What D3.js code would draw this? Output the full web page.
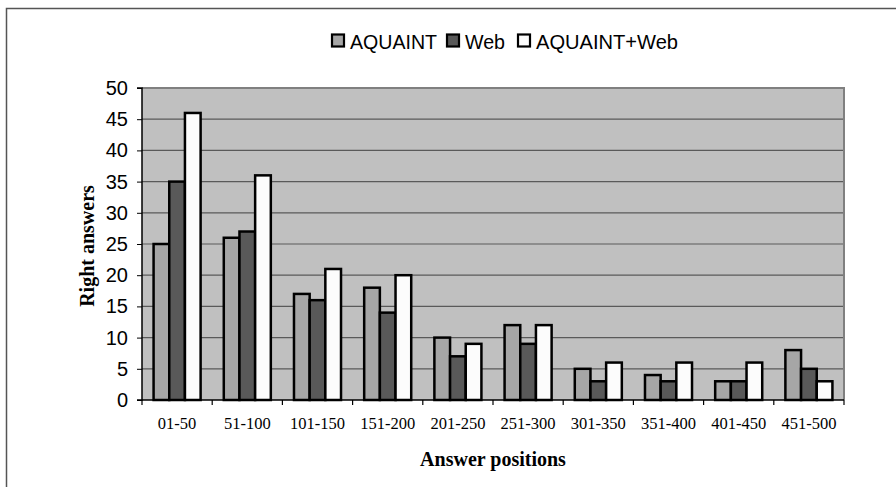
<!DOCTYPE html>
<html><head><meta charset="utf-8">
<script src="https://cdn.jsdelivr.net/npm/d3@7"></script>
<style>body{margin:0;background:#fff}svg{display:block}</style>
</head><body>
<script>
const categories = ["01-50","51-100","101-150","151-200","201-250","251-300","301-350","351-400","401-450","451-500"];
const seriesNames = ["AQUAINT","Web","AQUAINT+Web"];
const aquaint = [25,26,17,18,10,12,5,4,3,8];
const web = [35,27,16,14,7,9,3,3,3,5];
const aquaintWeb = [46,36,21,20,9,12,6,6,6,3];
const yTicks = [0,5,10,15,20,25,30,35,40,45,50];
const colors = ["#a6a6a6","#595959","#fcfcfc"];

const W = 896, H = 487;
const svg = d3.select("body").append("svg").attr("width", W).attr("height", H);
// outer frame
svg.append("path").attr("d", `M6.5,${H} V8.5 H${W}`).attr("fill","none").attr("stroke","#555").attr("stroke-width",1.5);

const L = 142, R = 844, T = 88, B = 400;
const x = d3.scaleBand().domain(categories).range([L, R]).paddingInner(0.33).paddingOuter(0.165);
const x1 = d3.scaleBand().domain(seriesNames).range([0, x.bandwidth()]);
const y = d3.scaleLinear().domain([0, 50]).range([B, T]);

svg.append("rect").attr("x", L).attr("y", T).attr("width", R - L).attr("height", B - T).attr("fill", "#c0c0c0");
// gridlines
svg.append("g").selectAll("line").data(yTicks.filter(d => d > 0 && d < 50)).join("line")
  .attr("x1", L).attr("x2", R).attr("y1", d => y(d)).attr("y2", d => y(d))
  .attr("stroke", "#5a5a5a").attr("stroke-width", 1.2);
// plot border top/right
svg.append("path").attr("d", `M${L},${T} H${R} V${B}`).attr("fill","none").attr("stroke","#808080").attr("stroke-width",2);

const data = [aquaint, web, aquaintWeb];
const g = svg.append("g");
categories.forEach((c, i) => {
  seriesNames.forEach((s, j) => {
    g.append("rect")
      .attr("x", x(c) + x1(s)).attr("y", y(data[j][i]))
      .attr("width", x1.bandwidth()).attr("height", B - y(data[j][i]))
      .attr("fill", colors[j]).attr("stroke", "#000").attr("stroke-width", 2.5);
  });
});

// y axis
const yAxis = svg.append("g").attr("transform", `translate(${L},0)`)
  .call(d3.axisLeft(y).tickValues(yTicks).tickSize(5).tickPadding(9));
yAxis.select(".domain").attr("stroke", "#000").attr("stroke-width", 1.5).attr("d", `M-5,${T}H0V${B}H-5`);
yAxis.selectAll("text").attr("font-family", "Liberation Sans, Arial, sans-serif").attr("font-size", 20).attr("fill", "#000");
yAxis.selectAll(".tick line").attr("stroke", "#000");

// x axis
const xAxis = svg.append("g").attr("transform", `translate(0,${B})`)
  .call(d3.axisBottom(x).tickSize(0).tickPadding(17));
xAxis.select(".domain").attr("stroke", "#000").attr("stroke-width", 1.5).attr("d", `M${L},0H${R}`);
xAxis.selectAll("text").attr("font-family", "Liberation Serif, Times New Roman, serif").attr("font-size", 16.5).attr("fill", "#000");
// x ticks at category boundaries
const bounds = d3.range(categories.length + 1).map(i => L + i * (R - L) / categories.length);
svg.append("g").selectAll("line").data(bounds).join("line")
  .attr("x1", d => d).attr("x2", d => d).attr("y1", B).attr("y2", B + 5)
  .attr("stroke", "#000").attr("stroke-width", 1.2);

// axis titles
svg.append("text").attr("x", 493).attr("y", 466).attr("text-anchor", "middle")
  .attr("font-family", "Liberation Serif, Times New Roman, serif").attr("font-weight", "bold").attr("font-size", 20)
  .text("Answer positions");
svg.append("text").attr("transform", "translate(94,246) rotate(-90)").attr("text-anchor", "middle")
  .attr("font-family", "Liberation Serif, Times New Roman, serif").attr("font-weight", "bold").attr("font-size", 20)
  .text("Right answers");

// legend
const legend = svg.append("g").attr("font-family", "Liberation Sans, Arial, sans-serif").attr("font-size", 20);
const legendRectX = [332, 447, 518];
const legendWidths = [87, 40, 142];
seriesNames.forEach((s, j) => {
  legend.append("rect").attr("x", legendRectX[j]).attr("y", 34.5).attr("width", 12).attr("height", 12)
    .attr("fill", colors[j]).attr("stroke", "#000").attr("stroke-width", 2.2);
  legend.append("text").attr("x", legendRectX[j] + 18).attr("y", 48.5)
    .attr("textLength", legendWidths[j]).attr("lengthAdjust", "spacingAndGlyphs").text(s);
});
</script>
</body></html>
